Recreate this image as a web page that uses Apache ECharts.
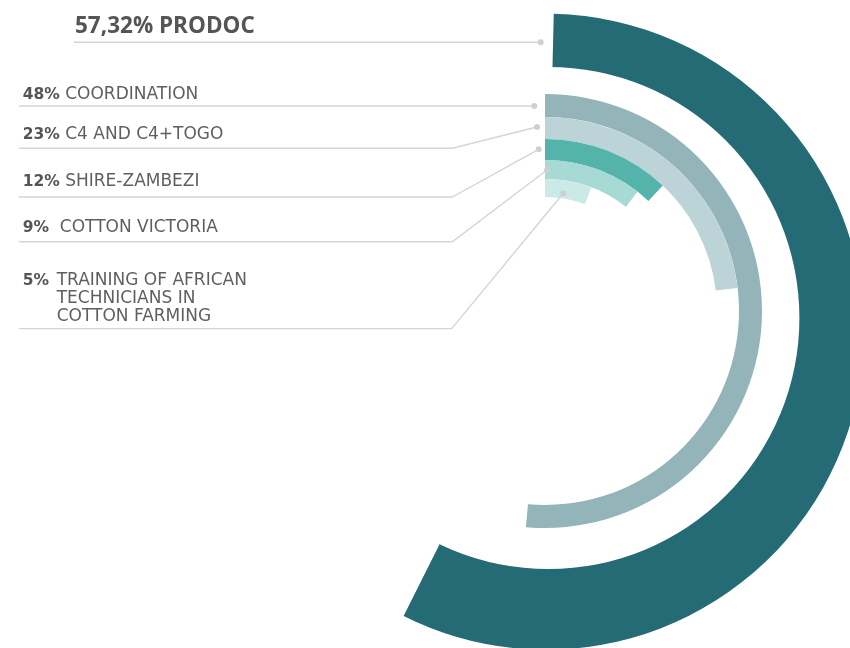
<!DOCTYPE html>
<html><head><meta charset="utf-8">
<script src="https://cdn.jsdelivr.net/npm/echarts@6/dist/echarts.min.js"></script>
<style>html,body{margin:0;padding:0;background:#fff}#c{width:850px;height:648px}</style>
</head><body><div id="c"></div>
<script>
// ---- data ----
const names = ['PRODOC', 'COORDINATION', 'C4 AND C4+TOGO', 'SHIRE-ZAMBEZI', 'COTTON VICTORIA', 'TRAINING OF AFRICAN\nTECHNICIANS IN\nCOTTON FARMING'];
const percentLabels = ['57,32%', '48%', '23%', '12%', '9%', '5%'];
// sweep of each arc as drawn in the picture (percent of a full circle)
const arcShares = [57.0, 51.4, 23.1, 12.0, 10.5, 5.7];

// ---- style / layout ----
const colors = ['#246b76', '#93b5ba', '#bcd3d8', '#54b4ac', '#a7d9d5', '#cbe9e7'];
const outerCenter = [546, 331.7], outerRadius = 318, outerStart = 88.6;
const maskCenter = [548.4, 318], maskRadius = 251;
const innerCenter = [545, 311];
const innerRadii = [null, [194, 217], [172, 194], [151, 172], [132, 151], [114, 132]];
// leader: [textY, lineY, lineStartX, bendX, dotX, dotY]
const leaders = [
  [27, 42.3, 74, null, 540.7, 42.3],
  [94.5, 106, 19, null, 534.3, 106],
  [134.8, 148.3, 19, 452.3, 537, 127],
  [182, 197, 19, 452.3, 538.7, 149.3],
  [228, 241.7, 19, 452.3, 547, 170],
  [281, 328.6, 19, 451.7, 563.3, 193.3]
];
const lineColor = '#d5d5d5';
const numColor = '#555555', nameColor = '#5f5f5f';
const NUM_FONT = 'bold 15.5px "DejaVu Sans"';
const NAME_FONT = 'normal 17px "DejaVu Sans"';

function ringData(v, c) {
  return [
    { value: v, itemStyle: { color: c } },
    { value: 100 - v, itemStyle: { color: 'rgba(0,0,0,0)' } }
  ];
}
const common = {
  type: 'pie', silent: true, clockwise: true, animation: false,
  avoidLabelOverlap: false, minAngle: 0, padAngle: 0,
  label: { show: false }, labelLine: { show: false },
  emphasis: { disabled: true },
  itemStyle: { borderWidth: 0 }
};
const series = [];
series.push(Object.assign({}, common, {
  z: 1, center: outerCenter, radius: [0, outerRadius], startAngle: outerStart,
  data: ringData(arcShares[0], colors[0])
}));
series.push(Object.assign({}, common, {
  z: 2, center: maskCenter, radius: [0, maskRadius], startAngle: 90,
  data: [{ value: 1, itemStyle: { color: '#ffffff' } }]
}));
for (let i = 1; i < arcShares.length; i++) {
  series.push(Object.assign({}, common, {
    z: 3, center: innerCenter, radius: innerRadii[i], startAngle: 90,
    data: ringData(arcShares[i], colors[i])
  }));
}

const elements = [];
leaders.forEach((L, i) => {
  const [ty, ly, sx, bx, dx, dy] = L;
  const pts = [[sx, ly]];
  if (bx !== null) pts.push([bx, ly]);
  pts.push([dx, dy]);
  elements.push({ type: 'polyline', z: 100, silent: true, shape: { points: pts },
    style: { stroke: lineColor, lineWidth: 1.4, fill: null } });
  elements.push({ type: 'circle', z: 101, silent: true, shape: { cx: dx, cy: dy, r: 3 },
    style: { fill: '#d0d0d0' } });
});
// heading label
elements.push({ type: 'text', z: 102, x: 75, y: leaders[0][0], silent: true,
  style: { text: percentLabels[0] + ' ' + names[0], font: 'bold 22.5px "Open Sans"',
    fill: numColor, verticalAlign: 'middle', align: 'left' } });
// single-line labels
for (let i = 1; i < 5; i++) {
  const gap = i === 4 ? '  ' : ' ';
  elements.push({ type: 'text', z: 102, x: 22.7, y: leaders[i][0], silent: true,
    style: { text: '{n|' + percentLabels[i] + '}' + '{t|' + gap + names[i] + '}',
      verticalAlign: 'middle', align: 'left',
      rich: {
        n: { font: NUM_FONT, fill: numColor },
        t: { font: NAME_FONT, fill: nameColor }
      } } });
}
// multi-line label
elements.push({ type: 'text', z: 102, x: 22.7, y: leaders[5][0], silent: true,
  style: { text: percentLabels[5], font: NUM_FONT,
    fill: numColor, verticalAlign: 'middle', align: 'left' } });
elements.push({ type: 'text', z: 102, x: 56.7, y: leaders[5][0] - 9, silent: true,
  style: { text: names[5], font: NAME_FONT,
    lineHeight: 18, fill: nameColor, verticalAlign: 'top', align: 'left' } });

const chart = echarts.init(document.getElementById('c'), null, { renderer: 'canvas' });
chart.setOption({
  backgroundColor: '#ffffff',
  animation: false,
  series: series,
  graphic: { elements: elements }
});
</script>
</body></html>
